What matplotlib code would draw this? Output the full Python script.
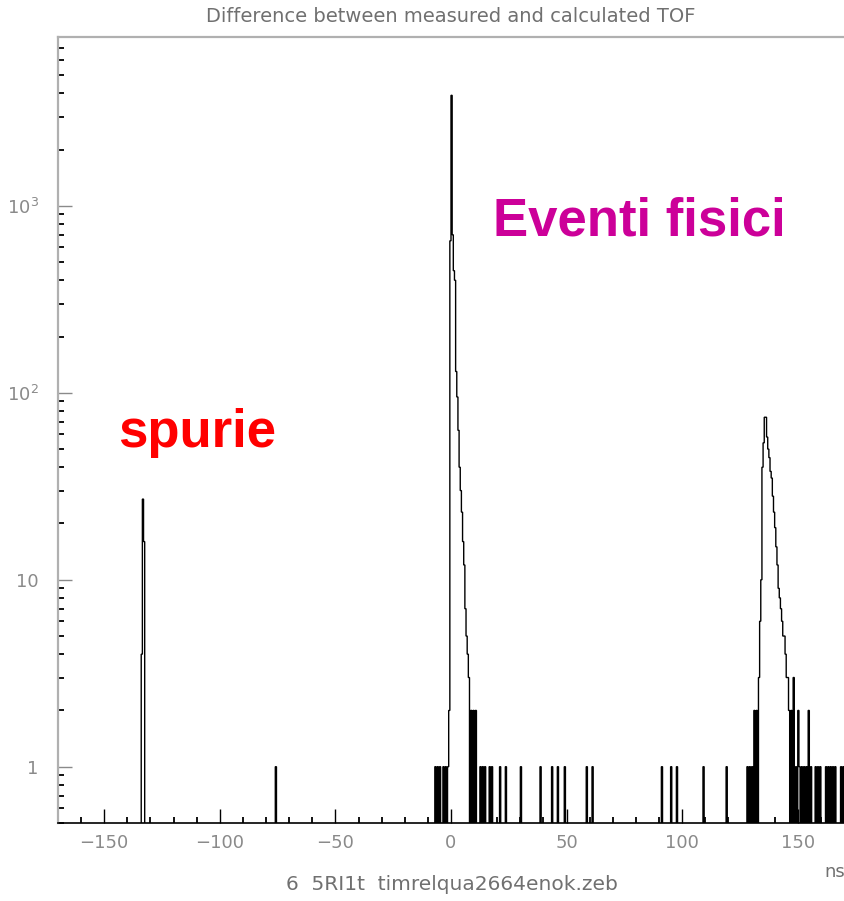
import numpy as np
import matplotlib
matplotlib.use('Agg')
import matplotlib.pyplot as plt
from matplotlib.ticker import FixedLocator, FixedFormatter, MultipleLocator, LogLocator, NullFormatter

# histogram of TOF difference, 0.5 ns bins (left edge of each non-empty bin, in ns)
spurie_ns = [-134.0, -133.5, -133.0, -76.0]
spurie_counts = [4, 27, 16, 1]

main_ns = [-7.0, -6.0, -5.0, -3.5, -2.5, -1.5, -1.0,
           -0.5, 0.0, 0.5, 1.0, 1.5, 2.0, 2.5, 3.0, 3.5, 4.0, 4.5, 5.0, 5.5,
           6.0, 6.5, 7.0, 7.5, 8.5, 9.5, 10.5]
main_counts = [1, 1, 1, 1, 1, 1, 2,
               650, 3900, 700, 450, 400, 130, 95, 63, 40, 30, 23, 16, 12,
               7, 5, 4, 3, 2, 2, 2]

tail_ns = [12.5, 13.5, 14.5, 16.5, 17.5, 21.0, 23.5, 30.0, 38.5, 43.5, 46.0,
           49.0, 58.5, 61.0, 91.0, 95.0, 97.5, 109.0, 119.0]
tail_counts = [1] * len(tail_ns)

third_ns = [128.0, 129.0, 130.0, 131.0, 132.0, 133.0, 133.5,
            134.0, 134.5, 135.0, 135.5, 136.0, 136.5, 137.0, 137.5, 138.0, 138.5,
            139.0, 139.5, 140.0, 140.5, 141.0, 141.5, 142.0, 142.5, 143.0, 143.5,
            144.0, 144.5, 145.0, 145.5, 146.0, 147.0, 148.0, 149.0, 150.0, 150.5,
            151.5, 152.5, 153.5, 154.5, 155.5, 157.5, 158.5, 159.5, 162.0, 163.0,
            164.0, 165.0, 166.0, 168.5, 169.5]
third_counts = [1, 1, 1, 2, 2, 3, 6,
                10, 40, 54, 74, 74, 58, 50, 45, 38, 35,
                28, 23, 19, 15, 12, 9, 8, 7, 6, 5,
                5, 4, 3, 3, 2, 2, 3, 1, 2, 1,
                1, 1, 1, 2, 1, 1, 1, 1, 1, 1,
                1, 1, 1, 1, 1]

xticks = [-150, -100, -50, 0, 50, 100, 150]
yticks = [1, 10, 100, 1000]
ytick_labels = ['1', '10', '$10^2$', '$10^3$']

title = 'Difference between measured and calculated TOF'
footer = '6  5RI1t  timrelqua2664enok.zeb'

# build full histogram
bw = 0.5
edges = np.arange(-170, 170 + bw / 2, bw)
counts = np.zeros(len(edges) - 1)
for ns_list, c_list in [(spurie_ns, spurie_counts), (main_ns, main_counts),
                        (tail_ns, tail_counts), (third_ns, third_counts)]:
    for ns, c in zip(ns_list, c_list):
        counts[int(round((ns + 170) / bw))] += c

W, H = 844, 901
fig = plt.figure(figsize=(W / 100, H / 100), dpi=100)
ax = fig.add_axes([58 / W, 1 - 823 / H, (844 - 58) / W, (823 - 37) / H])

floor = 1e-2
ax.stairs(np.where(counts > 0, counts, floor), edges, baseline=floor,
          color='black', lw=1.0)

ax.set_yscale('log')
ax.set_xlim(-170, 170)
ax.set_ylim(0.5, 8000)

grey = '#8a8a8a'
ax.xaxis.set_major_locator(FixedLocator(xticks))
ax.xaxis.set_minor_locator(MultipleLocator(10))
ax.yaxis.set_major_locator(FixedLocator(yticks))
ax.yaxis.set_major_formatter(FixedFormatter(ytick_labels))
ax.yaxis.set_minor_locator(LogLocator(base=10, subs=np.arange(2, 10)))
ax.yaxis.set_minor_formatter(NullFormatter())

ax.tick_params(which='major', direction='in', length=10, width=1.0, color=grey,
               labelcolor=grey, labelsize=13)
ax.tick_params(which='minor', direction='in', length=4, width=1.3, color='black')
ax.tick_params(axis='x', which='major', pad=8, color='black')
ax.tick_params(axis='y', which='major', pad=14)

for side in ['left', 'top']:
    ax.spines[side].set_color('#b0b0b0')
    ax.spines[side].set_linewidth(1.6)
ax.spines['bottom'].set_color('black')
ax.spines['bottom'].set_linewidth(1.2)
ax.spines['right'].set_visible(False)

fig.text(451 / W, 1 - 16 / H, title, ha='center', va='center', color='#707070', fontsize=14)
fig.text(452 / W, 1 - 885 / H, footer, ha='center', va='center', color='#707070', fontsize=14.5)
fig.text(824 / W, 1 - 872 / H, 'ns', ha='left', va='center', color='#707070', fontsize=13)

fig.text(118 / W, 1 - 447 / H, 'spurie', ha='left', va='baseline', color='#ff0000',
         fontsize=38, fontweight='bold', family='Liberation Sans')
fig.text(493 / W, 1 - 236 / H, 'Eventi fisici', ha='left', va='baseline', color='#cc0099',
         fontsize=38, fontweight='bold', family='Liberation Sans')

fig.savefig('out.png', dpi=100, facecolor='white')
